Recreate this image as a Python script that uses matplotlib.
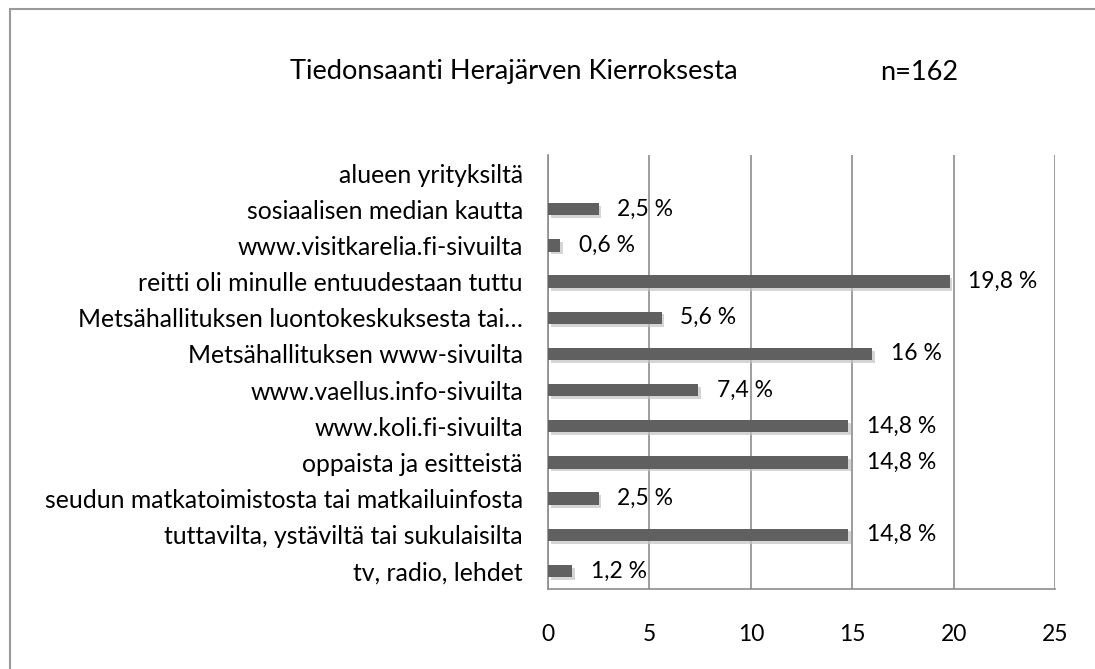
import matplotlib.pyplot as plt
import matplotlib.patheffects as pe
from matplotlib.patches import Rectangle

plt.rcParams["font.family"] = ["Lato", "DejaVu Sans"]

categories = [
    "tv, radio, lehdet",
    "tuttavilta, ystäviltä tai sukulaisilta",
    "seudun matkatoimistosta tai matkailuinfosta",
    "oppaista ja esitteistä",
    "www.koli.fi-sivuilta",
    "www.vaellus.info-sivuilta",
    "Metsähallituksen www-sivuilta",
    "Metsähallituksen luontokeskuksesta tai…",
    "reitti oli minulle entuudestaan tuttu",
    "www.visitkarelia.fi-sivuilta",
    "sosiaalisen median kautta",
    "alueen yrityksiltä",
]
values = [1.2, 14.8, 2.5, 14.8, 14.8, 7.4, 16, 5.6, 19.8, 0.6, 2.5, 0]
labels = ["1,2 %", "14,8 %", "2,5 %", "14,8 %", "14,8 %", "7,4 %",
          "16 %", "5,6 %", "19,8 %", "0,6 %", "2,5 %", ""]

W, H = 1095, 669
fig = plt.figure(figsize=(W / 100, H / 100), dpi=100)
ax = fig.add_axes([548 / W, 1 - 589 / H, (1055 - 548) / W, (589 - 155) / H])

# outer chart frame (runs off the right/bottom edge like the original)
fig.patches.append(Rectangle((10 / W, -0.05), 1.2, 1 - 9 / H + 0.05,
                             transform=fig.transFigure, fill=False,
                             edgecolor="#9a9a9a", linewidth=1.5))

shadow = [pe.SimplePatchShadow(offset=(2, -2), shadow_rgbFace="#c4c4c4", alpha=0.7),
          pe.Normal()]
y = range(len(categories))
bars = ax.barh(y, values, height=0.34, color="#606060", zorder=3)
for b in bars:
    b.set_path_effects(shadow)

for yi, v, lab in zip(y, values, labels):
    if lab:
        ax.annotate(lab, (v, yi), xytext=(13.5, 0), textcoords="offset points",
                    va="center", ha="left", fontsize=16.5, zorder=4)

ax.set_xlim(0, 25)
ax.set_ylim(-0.5, len(categories) - 0.5)
ax.set_xticks([0, 5, 10, 15, 20, 25])
ax.set_yticks(list(y))
ax.set_yticklabels(categories)
ax.tick_params(axis="both", length=0, labelsize=16.5)
ax.tick_params(axis="y", labelsize=17.8, pad=18)
ax.tick_params(axis="x", pad=25)
ax.xaxis.grid(True, color="#8c8c8c", linewidth=1.2, zorder=0)
ax.set_axisbelow(True)
for s in ["top", "right"]:
    ax.spines[s].set_visible(False)
for s in ["left", "bottom"]:
    ax.spines[s].set_color("#8c8c8c")
    ax.spines[s].set_linewidth(1.2)

fig.text(514 / W, 1 - 72 / H, "Tiedonsaanti Herajärven Kierroksesta",
         ha="center", va="center", fontsize=19.6)
fig.text(919 / W, 1 - 72 / H, "n=162", ha="center", va="center", fontsize=19.6)

fig.savefig("out.png", dpi=100)
